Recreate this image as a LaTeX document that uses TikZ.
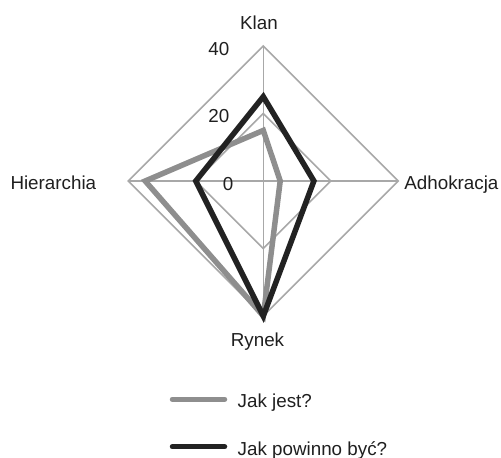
\documentclass[tikz,border=0pt]{standalone}
\usepackage{fontspec}
\setmainfont{Liberation Sans}
\definecolor{gridc}{HTML}{A8A8A8}
\definecolor{graysr}{HTML}{8E8E8E}
\definecolor{blacksr}{HTML}{222222}
\begin{document}
\begin{tikzpicture}[x=1pt,y=-1pt,
  lbl/.style={inner sep=0pt,font=\fontsize{18.8}{22}\selectfont,text=black!88},
  gridline/.style={draw=gridc,line width=1.5pt},
  serA/.style={draw=graysr,line width=5.5pt,line join=miter},
  serB/.style={draw=blacksr,line width=5.5pt,line join=miter},
  legA/.style={draw=graysr,line width=5.5pt,line cap=round},
  legB/.style={draw=blacksr,line width=5.5pt,line cap=round}]
\useasboundingbox (0,0) rectangle (501,458);
% axes geometry
\coordinate (C) at (263.3,181);
\coordinate (T) at (263.3,46);
\coordinate (R) at (398.3,181);
\coordinate (B) at (263.3,316);
\coordinate (L) at (128.3,181);
\coordinate (t2) at (263.3,113.5);
\coordinate (r2) at (330.8,181);
\coordinate (b2) at (263.3,248.5);
\coordinate (l2) at (195.8,181);
% grid
\draw[gridline] (T) -- (R) -- (B) -- (L) -- cycle;
\draw[gridline] (t2) -- (r2) -- (b2) -- (l2) -- cycle;
\draw[gridline] (T) -- (B);
\draw[gridline] (L) -- (R);
% series: Jak jest?
\coordinate (a1) at (263.3,130.4);
\coordinate (a2) at (280.2,181);
\coordinate (a3) at (263.3,316);
\coordinate (a4) at (145.2,181);
\draw[serA] (a1) -- (a2) -- (a3) -- (a4) -- cycle;
% series: Jak powinno być?
\coordinate (p1) at (263.3,96.6);
\coordinate (p2) at (313.9,181);
\coordinate (p3) at (263.3,316);
\coordinate (p4) at (195.8,181);
\draw[serB] (p1) -- (p2) -- (p3) -- (p4) -- cycle;
% axis value labels
\node[lbl,anchor=base east] (v40) at (229.5,55) {40};
\node[lbl,anchor=base east] (v20) at (229.5,122.7) {20};
\node[lbl,anchor=base east] (v0) at (233.5,190) {0};
% category labels
\node[lbl,anchor=base] (klan) at (259,29.3) {Klan};
\node[lbl,anchor=base] (rynek) at (257.5,346.7) {Rynek};
\node[lbl,anchor=base west] (hier) at (10.3,189.3) {Hierarchia};
\node[lbl,anchor=base west] (adho) at (404.2,189.3) {Adhokracja};
% legend
\coordinate (la1) at (172.5,399.3);
\coordinate (la2) at (224.5,399.3);
\coordinate (lb1) at (172.5,446.7);
\coordinate (lb2) at (224.5,446.7);
\draw[legA] (la1) -- (la2);
\draw[legB] (lb1) -- (lb2);
\node[lbl,anchor=base west] (leg1) at (237.5,407.3) {Jak jest?};
\node[lbl,anchor=base west] (leg2) at (237.5,455) {Jak powinno być?};
\end{tikzpicture}
\end{document}
